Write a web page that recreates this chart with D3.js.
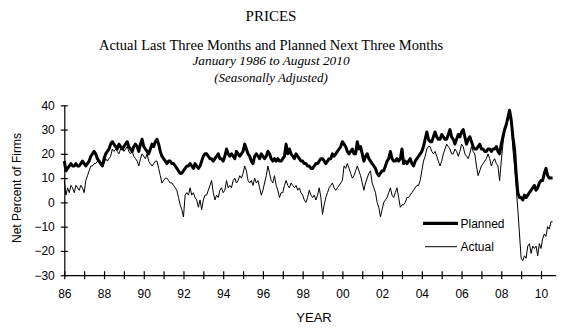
<!DOCTYPE html>
<html>
<head>
<meta charset="utf-8">
<script src="https://cdn.jsdelivr.net/npm/d3@7"></script>
<style>
body{margin:0;background:#fff;}
svg{display:block;}
</style>
</head>
<body>
<svg></svg>
<script>
// monthly series, Jan 1986 .. Aug 2010, one row per year
var startYear=1986;

var planned=[
  17,13,14,15,16,15,15,16,15,15,16,17,
  16,15,16,17,19,20,21,20,18,17,16,15,
  18,20,21,22,24,25,24,23,22,24,23,22,
  23,24,25,23,22,21,23,24,23,21,24,26,
  23,22,21,20,22,24,23,25,26,24,21,19,
  18,17,16,17,17,16,16,15,14,13,12,12,
  13,14,15,15,16,15,14,16,15,14,15,17,
  19,20,20,19,18,18,17,18,19,20,18,18,
  17,19,22,20,19,20,19,18,21,20,19,20,
  21,24,22,20,19,17,16,19,20,19,18,20,
  19,18,19,21,20,18,17,18,17,18,17,17,
  18,19,24,20,22,20,19,18,20,19,18,17,
  17,16,16,15,15,14,14,15,16,16,17,18,
  18,17,16,17,18,18,20,19,20,21,22,23,
  25,24,23,21,20,21,22,20,20,25,22,23,
  20,17,19,20,18,17,16,15,14,12,11,12,
  13,13,15,17,18,21,18,17,17,18,17,18,
  22,16,17,16,17,18,16,15,17,18,19,20,
  21,23,26,29,26,25,25,27,29,27,26,26,
  28,27,26,26,28,30,27,26,24,26,28,27,
  29,30,27,24,26,27,25,23,22,22,23,24,
  22,22,21,21,22,22,21,22,22,23,21,20,
  24,27,30,32,35,38,34,27,22,12,4,2,
  2,1,3,2,3,4,5,6,7,5,6,8,
  9,9,12,14,11,10,10,10
];

var actual=[
  9,3,6,4,7,6,4,7,6,5,7,6,
  4,9,11,13,15,15,16,16,17,17,16,15,
  16,18,17,18,19,22,21,22,21,20,22,23,
  21,22,23,21,20,21,19,18,17,15,18,20,
  19,18,20,17,16,15,16,17,17,14,11,8,
  9,10,10,9,8,8,7,6,5,2,-1,-3,
  -6,3,4,3,6,3,4,2,1,-2,1,-3,
  1,3,3,5,7,9,4,1,3,2,5,6,
  4,5,9,6,7,6,9,10,8,9,11,10,
  12,15,13,9,8,9,7,10,8,9,6,3,
  5,8,11,15,12,9,8,11,7,5,2,4,
  4,7,9,7,6,8,7,6,7,5,6,4,
  3,1,0,2,5,3,2,3,1,3,6,2,
  -5,-1,2,4,6,7,8,6,5,6,7,8,
  9,15,14,16,14,12,10,11,13,15,13,11,
  8,5,8,10,12,13,8,6,4,0,-2,-6,
  -3,0,1,2,4,6,3,2,4,6,2,-2,
  -1,-1,0,2,2,3,4,5,6,7,7,9,
  13,17,19,22,23,23,21,20,21,19,17,15,
  17,20,22,24,23,22,20,20,22,21,19,21,
  24,23,20,19,18,20,23,21,20,15,11,13,
  15,16,17,18,20,18,15,17,18,16,15,9,
  17,24,30,32,34,35,33,22,15,6,-3,-13,
  -23,-24,-22,-23,-18,-17,-21,-18,-19,-18,-22,-17,
  -19,-15,-13,-14,-10,-11,-8,-8
];

var yTicks=[-30,-20,-10,0,10,20,30,40];
var yearTicks=d3.range(1986,2011);
var seriesNames=["Planned","Actual"];
var titles=["PRICES","Actual Last Three Months and Planned Next Three Months","January 1986 to August 2010","(Seasonally Adjusted)"];

function toPoints(values){
  return values.map(function(d,i){
    return {year:startYear+i/12, value:d};
  });
}

function makeChart(){
  var width=573;
  var height=329;
  var svg=d3.select("svg")
            .attr("width",width)
            .attr("height",height);

  var xScale=d3.scaleLinear()
               .domain([1986,2010.74])
               .range([64.3,555.7]);
  var yScale=d3.scaleLinear()
               .domain([-30,40])
               .range([275.2,105.3]);

  // titles
  var serif="'Liberation Serif','Times New Roman',serif";
  svg.append("text").text(titles[0])
     .attr("x",271).attr("y",21)
     .attr("text-anchor","middle")
     .style("font-family",serif).style("font-size","15px");
  svg.append("text").text(titles[1])
     .attr("x",271).attr("y",50)
     .attr("text-anchor","middle")
     .style("font-family",serif).style("font-size","14.5px");
  svg.append("text").text(titles[2])
     .attr("x",271).attr("y",65)
     .attr("text-anchor","middle")
     .style("font-family",serif).style("font-size","13.3px").style("font-style","italic");
  svg.append("text").text(titles[3])
     .attr("x",271).attr("y",82)
     .attr("text-anchor","middle")
     .style("font-family",serif).style("font-size","13px").style("font-style","italic");

  var sans="'Liberation Sans',Arial,sans-serif";

  // y axis, ticks cross the line
  var yAxis=d3.axisLeft(yScale)
              .tickValues(yTicks)
              .tickSizeOuter(0);
  var gy=svg.append("g")
            .attr("transform","translate("+xScale(1986)+",0)")
            .call(yAxis);
  gy.selectAll(".tick line").attr("x1",3.5).attr("x2",-3.5);
  gy.selectAll(".tick text")
    .attr("x",-9.5)
    .style("font-family",sans).style("font-size","12px").attr("fill","#000");
  gy.selectAll("path,line").attr("stroke","#000").attr("stroke-width",1.2);

  // x axis, one tick per year, label every second year
  var xAxis=d3.axisBottom(xScale)
              .tickValues(yearTicks)
              .tickSizeOuter(0)
              .tickFormat(function(d){
                return d%2===0 ? d3.format("02")(d%100) : "";
              });
  var gx=svg.append("g")
            .attr("transform","translate(0,"+yScale(-30)+")")
            .call(xAxis);
  gx.selectAll(".tick line").attr("y1",-4).attr("y2",4);
  gx.selectAll(".tick text")
    .attr("y",22.5).attr("dy",0)
    .style("font-family",sans).style("font-size","12px").attr("fill","#000");
  gx.selectAll("path,line").attr("stroke","#000").attr("stroke-width",1.2);

  // axis titles
  svg.append("text").text("YEAR")
     .attr("x",314).attr("y",321.7)
     .attr("text-anchor","middle")
     .style("font-family",sans).style("font-size","13px");
  svg.append("text").text("Net Percent of Firms")
     .attr("transform","translate(20.5,188) rotate(-90)")
     .attr("text-anchor","middle")
     .style("font-family",sans).style("font-size","12px");

  var lineMaker=d3.line()
                  .x(function(d){return xScale(d.year);})
                  .y(function(d){return yScale(d.value);});

  svg.append("path")
     .attr("d",lineMaker(toPoints(planned)))
     .attr("fill","none")
     .attr("stroke","#000")
     .attr("stroke-width",3)
     .attr("stroke-linejoin","round");
  svg.append("path")
     .attr("d",lineMaker(toPoints(actual)))
     .attr("fill","none")
     .attr("stroke","#000")
     .attr("stroke-width",1)
     .attr("stroke-linejoin","round");

  // legend
  var legend=svg.append("g");
  legend.append("line")
        .attr("x1",423).attr("x2",458).attr("y1",223.3).attr("y2",223.3)
        .attr("stroke","#000").attr("stroke-width",3.2);
  legend.append("line")
        .attr("x1",425).attr("x2",457).attr("y1",246.7).attr("y2",246.7)
        .attr("stroke","#000").attr("stroke-width",1);
  legend.selectAll("text")
        .data(seriesNames)
        .enter()
        .append("text")
        .text(function(d){return d;})
        .attr("x",460.5)
        .attr("y",function(d,i){return 227.5+i*23.4;})
        .style("font-family",sans).style("font-size","12px");
}

makeChart();
</script>
</body>
</html>
